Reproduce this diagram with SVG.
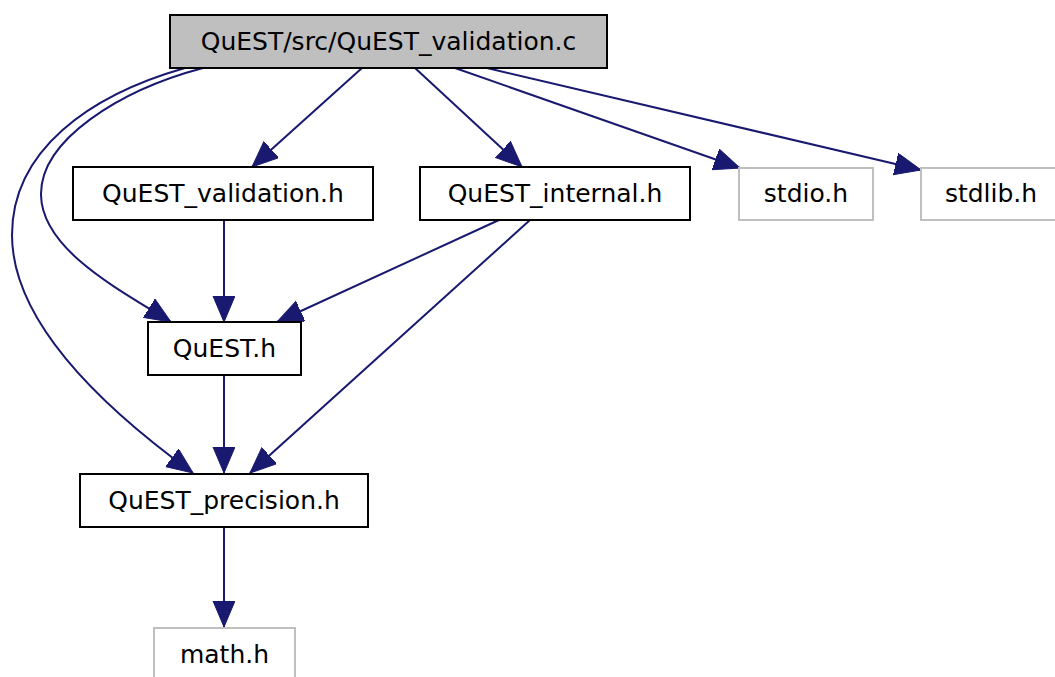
<svg xmlns="http://www.w3.org/2000/svg" width="1055" height="677" viewBox="0 0 1055 677">
<style>
.box{fill:#ffffff;stroke:#000000;stroke-width:2}
.root{fill:#bfbfbf;stroke:#000000;stroke-width:2}
.ext{fill:#ffffff;stroke:#bfbfbf;stroke-width:2}
text{font-family:"DejaVu Sans",sans-serif;font-size:25px;fill:#000000;text-anchor:middle}
.edge{fill:none;stroke:#191970;stroke-width:2;marker-end:url(#arr)}
</style>
<defs>
<marker id="arr" markerUnits="userSpaceOnUse" markerWidth="28" markerHeight="24" refX="26" refY="11" orient="auto">
<path d="M0,0 L26,11 L0,22 z" fill="#191970" stroke="#191970" stroke-width="1"/>
</marker>
</defs>
<rect width="1055" height="677" fill="#ffffff"/>
<g id="edges">
<path class="edge" d="M362,68 L252,167"/>
<path class="edge" d="M415,68 L522,167"/>
<path class="edge" d="M455,68 L740,168"/>
<path class="edge" d="M487,68 L921,170"/>
<path class="edge" d="M203,68 C120,90 40,140 41,195 C42,250 120,290 171,322"/>
<path class="edge" d="M185,68 C90,95 12,150 12,235 C12,330 120,420 193,473"/>
<path class="edge" d="M224,220 L224,322"/>
<path class="edge" d="M499,220 L277,322"/>
<path class="edge" d="M530,220 L250,473"/>
<path class="edge" d="M224,375 L224,473"/>
<path class="edge" d="M224,527 L224,627"/>
</g>
<g id="node_root">
<rect class="root" x="170" y="15" width="437" height="53"/>
<text x="388.5" y="50">QuEST/src/QuEST_validation.c</text>
</g>
<g id="node_validation_h">
<rect class="box" x="73" y="167" width="300" height="53"/>
<text x="223" y="202">QuEST_validation.h</text>
</g>
<g id="node_internal_h">
<rect class="box" x="420" y="167" width="270" height="53"/>
<text x="555" y="202">QuEST_internal.h</text>
</g>
<g id="node_stdio_h">
<rect class="ext" x="739" y="168" width="134" height="52"/>
<text x="806" y="202">stdio.h</text>
</g>
<g id="node_stdlib_h">
<rect class="ext" x="921" y="168" width="142" height="52"/>
<text x="991" y="202">stdlib.h</text>
</g>
<g id="node_quest_h">
<rect class="box" x="148" y="322" width="153" height="53"/>
<text x="224.5" y="357">QuEST.h</text>
</g>
<g id="node_precision_h">
<rect class="box" x="80" y="474" width="288" height="53"/>
<text x="224" y="509">QuEST_precision.h</text>
</g>
<g id="node_math_h">
<rect class="ext" x="154" y="628" width="141" height="53"/>
<text x="224.5" y="663">math.h</text>
</g>
</svg>
